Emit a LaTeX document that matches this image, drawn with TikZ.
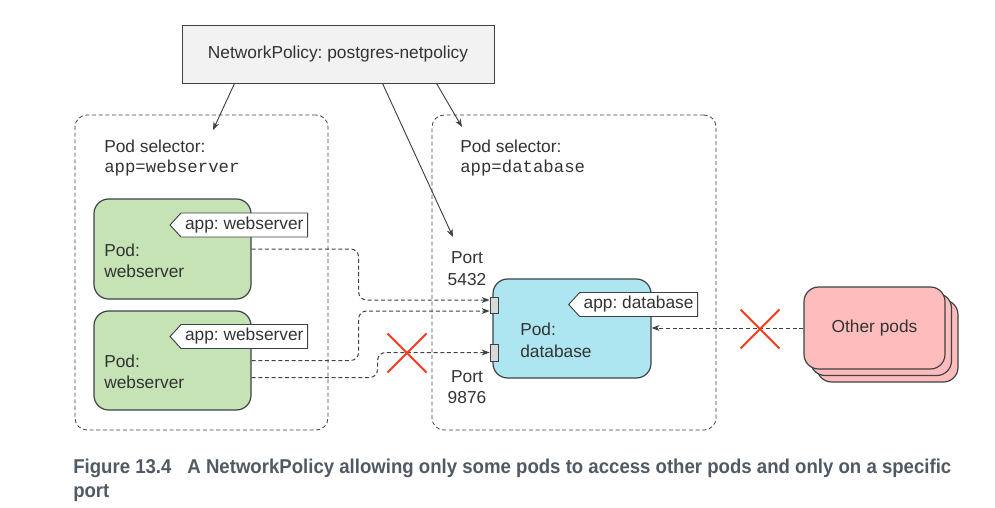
\documentclass[tikz,border=0pt]{standalone}
\usepackage{fontspec}
\setmainfont{Liberation Sans}
\setmonofont{Liberation Mono}
\newfontfamily\capfont{Liberation Sans}[FakeStretch=0.93]
\usetikzlibrary{arrows.meta,calc,shapes.symbols,shapes.misc}
\definecolor{ink}{HTML}{333333}\definecolor{edge}{HTML}{3D4247}
\definecolor{wsgreen}{HTML}{C5E3B5}\definecolor{dbcyan}{HTML}{ADE6F0}
\definecolor{otpink}{HTML}{FFBCBC}\definecolor{npgray}{HTML}{F2F2F2}
\definecolor{nogo}{HTML}{FF3B1F}\definecolor{capc}{HTML}{4F5A64}
\tikzset{t/.style={font=\fontsize{13}{15}\selectfont,text=ink,inner sep=0pt},
sel/.style={draw=edge,dash pattern=on 3pt off 2pt,rounded corners=9pt,line width=0.6pt},
pod/.style={draw=edge,line width=0.9pt,rounded corners=11pt,inner sep=0pt},
tag/.style={t,draw=edge,line width=0.7pt,fill=white,signal,signal to=west,signal pointer angle=95,minimum height=18pt,inner xsep=3pt},
port/.style={draw=edge,line width=0.6pt,fill=gray!30,minimum width=6pt,inner sep=0pt},
dsh/.style={draw=edge,dash pattern=on 3pt off 2pt,line width=0.75pt,-{Stealth[length=6pt,width=4.5pt]}},
arr/.style={draw=edge,line width=0.7pt,-{Stealth[length=6pt,width=4.5pt]}},
no/.style={draw=nogo,cross out,line width=1.5pt,minimum size=27.75pt,inner sep=0pt}}
\begin{document}
\frenchspacing
\begin{tikzpicture}[x=0.75pt,y=-0.75pt]
\useasboundingbox(0,0)rectangle(995,507);
\node[t,draw=edge,line width=0.7pt,fill=npgray,minimum width=234pt,minimum height=43.5pt](np)at(338,54){NetworkPolicy: postgres-netpolicy};
\node[sel,minimum width=189.75pt,minimum height=236.25pt](sw)at(201.5,272.5){};
\node[sel,minimum width=213pt,minimum height=236.25pt](sd)at(574,272.5){};
\node[t,anchor=base west](sw1)at(104,152){Pod selector:};\node[t,anchor=base west,font=\ttfamily\fontsize{13}{15}\selectfont](sw2)at(104,172){app=webserver};
\node[t,anchor=base west](sd1)at(460,152){Pod selector:};\node[t,anchor=base west,font=\ttfamily\fontsize{13}{15}\selectfont](sd2)at(460,172){app=database};
% pods
\node[pod,fill=wsgreen,minimum width=117.75pt,minimum height=75pt](ws1)at(172.5,249){};
\node[pod,fill=wsgreen,minimum width=117.75pt,minimum height=74.25pt](ws2)at(172.5,360.5){};
\node[pod,fill=dbcyan,minimum width=118.5pt,minimum height=74.25pt](db)at(572,328.5){};
\foreach\d/\n in{13/ob,6.5/om}\node[pod,fill=otpink,minimum width=105.75pt,minimum height=61.5pt](\n)at(874.5+\d,328+\d){};
\node[t,pod,fill=otpink,minimum width=105.75pt,minimum height=61.5pt](oth)at(874.5,328){Other pods};
\node[tag,anchor=east](tg1)at(308,225){app: webserver};\node[tag,anchor=east](tg2)at(308,336.5){app: webserver};
\node[tag,anchor=east](tg3)at(698,304.5){app: database};
\node[t,anchor=base west](w1a)at(104,256){Pod:};\node[t,anchor=base west](w1b)at(104,277){webserver};
\node[t,anchor=base west](w2a)at(104,367){Pod:};\node[t,anchor=base west](w2b)at(104,388){webserver};
\node[t,anchor=base west](d1a)at(520,335){Pod:};\node[t,anchor=base west](d1b)at(520,357){database};
% ports
\node[port,minimum height=12pt](p1)at(494,305){};\node[port,minimum height=12.75pt](p2)at(494,352.5){};
\node[t,anchor=base](p1a)at(467,263){Port};\node[t,anchor=base](p1b)at(467,285){5432};
\node[t,anchor=base](p2a)at(467,382){Port};\node[t,anchor=base](p2b)at(467,403){9876};
% policy arrows
\coordinate(a1)at(213,130);\coordinate(a2)at(453,237);\coordinate(a3)at(462,127);
\foreach\o/\e in{53/a1,201/a2,255/a3}\draw[arr]($(np.south west)+(\o,0)$)--(\e);
% traffic
\draw[dsh,rounded corners=6pt](ws1.east)--++(107,0)|-($(p1.west)+(0,-5)$);
\draw[dsh,rounded corners=6pt](ws2.east)--++(107,0)|-($(p1.west)+(0,6)$);
\draw[dsh,rounded corners=6pt]($(ws2.east)+(0,17)$)--++(126,0)|-(p2.west);
\draw[dsh](oth.west)--(oth.west-|db.east);
\node[no](x1)at(407,353){};\node[no](x2)at(760,329){};
% caption
\node[anchor=base west,inner sep=0pt,text=capc,font=\capfont\bfseries\fontsize{15}{18}\selectfont](cap1)at(73,473){Figure 13.4\hspace{12pt}A NetworkPolicy allowing only some pods to access other pods and only on a specific};
\node[anchor=base west,inner sep=0pt,text=capc,font=\capfont\bfseries\fontsize{15}{18}\selectfont](cap2)at(73,497){port};
\end{tikzpicture}
\end{document}
